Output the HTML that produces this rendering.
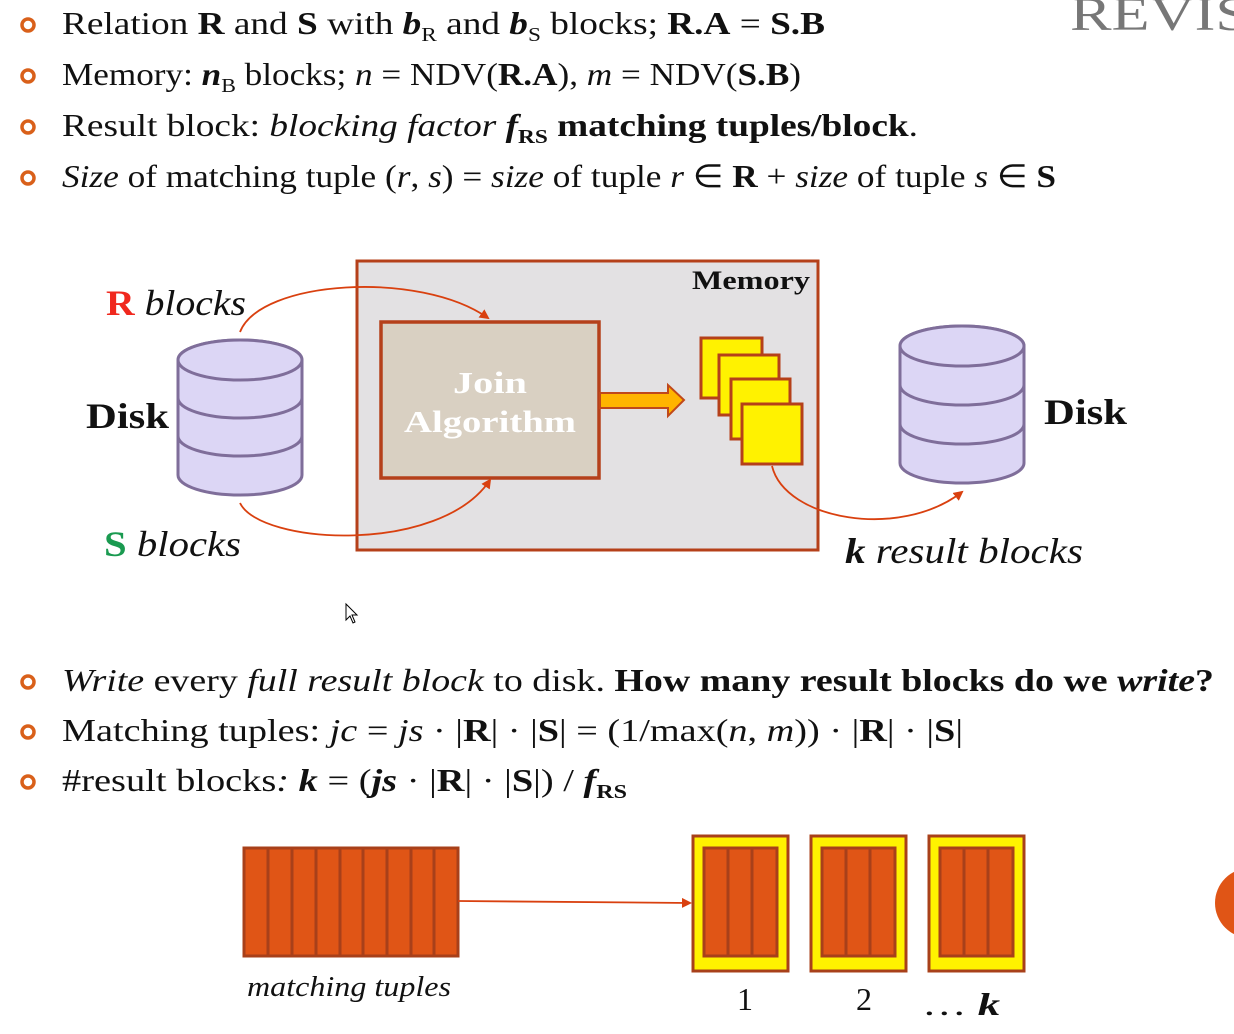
<!DOCTYPE html>
<html><head><meta charset="utf-8"><style>
html,body{margin:0;padding:0;background:#fff;width:1234px;height:1034px;overflow:hidden}
svg{display:block}
text{font-family:"Liberation Serif",serif;fill:#111}
.b{font-weight:bold}.i{font-style:italic}
</style></head><body>
<svg width="1234" height="1034" viewBox="0 0 1234 1034" xmlns="http://www.w3.org/2000/svg">
<defs>
<marker id="ah" markerWidth="10" markerHeight="10" refX="8" refY="5" orient="auto" markerUnits="userSpaceOnUse"><path d="M0,0 L10,5 L0,10 z" fill="#d9400f"/></marker>
</defs>
<g fill="none" stroke="#d9601a" stroke-width="3.5">
<circle cx="28" cy="25" r="6"/><circle cx="28" cy="76" r="6"/><circle cx="28" cy="127" r="6"/><circle cx="28" cy="178" r="6"/>
<circle cx="28" cy="682" r="6"/><circle cx="28" cy="732" r="6"/><circle cx="28" cy="782" r="6"/>
</g>
<g font-size="32">
<text x="62" y="34" textLength="763" lengthAdjust="spacingAndGlyphs">Relation <tspan class="b">R</tspan> and <tspan class="b">S</tspan> with <tspan class="b i">b</tspan><tspan font-size="20" dy="7">R</tspan><tspan dy="-7"> and </tspan><tspan class="b i">b</tspan><tspan font-size="20" dy="7">S</tspan><tspan dy="-7"> blocks;  </tspan><tspan class="b">R.A</tspan> = <tspan class="b">S.B</tspan></text>
<text x="62" y="85" textLength="739" lengthAdjust="spacingAndGlyphs">Memory: <tspan class="b i">n</tspan><tspan font-size="20" dy="7">B</tspan><tspan dy="-7"> blocks; </tspan><tspan class="i">n</tspan> = NDV(<tspan class="b">R.A</tspan>), <tspan class="i">m</tspan> = NDV(<tspan class="b">S.B</tspan>)</text>
<text x="62" y="136" textLength="856" lengthAdjust="spacingAndGlyphs">Result block: <tspan class="i">blocking factor </tspan><tspan class="b i">f</tspan><tspan font-size="20" dy="7" class="b">RS</tspan><tspan dy="-7" class="b"> matching tuples/block</tspan>.</text>
<text x="62" y="187" textLength="994" lengthAdjust="spacingAndGlyphs"><tspan class="i">Size</tspan> of matching tuple (<tspan class="i">r</tspan>, <tspan class="i">s</tspan>) = <tspan class="i">size</tspan> of tuple <tspan class="i">r</tspan> ∈ <tspan class="b">R</tspan> + <tspan class="i">size</tspan> of tuple <tspan class="i">s</tspan> ∈ <tspan class="b">S</tspan></text>
<text x="62" y="691" textLength="1152" lengthAdjust="spacingAndGlyphs"><tspan class="i">Write</tspan> every <tspan class="i">full result block</tspan> to disk. <tspan class="b">How many result blocks do we <tspan class="i">write</tspan>?</tspan></text>
<text x="62" y="741" textLength="901" lengthAdjust="spacingAndGlyphs">Matching tuples: <tspan class="i">jc</tspan> = <tspan class="i">js</tspan> ·  |<tspan class="b">R</tspan>| · |<tspan class="b">S</tspan>|  = (1/max(<tspan class="i">n</tspan>, <tspan class="i">m</tspan>)) ·  |<tspan class="b">R</tspan>| · |<tspan class="b">S</tspan>|</text>
<text x="62" y="791" textLength="565" lengthAdjust="spacingAndGlyphs">#result blocks<tspan class="i">: </tspan><tspan class="b i">k</tspan> = (<tspan class="b i">js</tspan> ·  |<tspan class="b">R</tspan>| · |<tspan class="b">S</tspan>|) / <tspan class="b i">f</tspan><tspan font-size="20" dy="7" class="b">RS</tspan></text>
</g>
<text x="1070" y="30" font-size="48" textLength="180" lengthAdjust="spacingAndGlyphs" style="fill:#777">REVIS</text>
<rect x="357" y="261" width="461" height="289" fill="#e3e1e3" stroke="#b5401a" stroke-width="3"/>
<text x="692" y="289" font-size="26" class="b" textLength="118" lengthAdjust="spacingAndGlyphs">Memory</text>
<rect x="381" y="322" width="218" height="156" fill="#d9d0c2" stroke="#b5401a" stroke-width="3.5"/>
<text x="490" y="393" font-size="31" text-anchor="middle" class="b" style="fill:#fff" textLength="74" lengthAdjust="spacingAndGlyphs">Join</text>
<text x="490" y="432" font-size="31" text-anchor="middle" class="b" style="fill:#fff" textLength="172" lengthAdjust="spacingAndGlyphs">Algorithm</text>
<path d="M600,393 H668 V385 L684,400 L668,416 V408 H600 z" fill="#ffb400" stroke="#c0481a" stroke-width="2"/>
<g fill="#fff200" stroke="#b5401a" stroke-width="3">
<rect x="701" y="338" width="61" height="60"/><rect x="719" y="355" width="60" height="60"/><rect x="731" y="379" width="59" height="60"/><rect x="742" y="404" width="60" height="60"/>
</g>
<g fill="none" stroke="#d9400f" stroke-width="1.8">
<path d="M240,332 C260,280 420,270 488,318" marker-end="url(#ah)"/>
<path d="M240,503 C260,545 440,555 490,480" marker-end="url(#ah)"/>
<path d="M772,466 C785,520 900,540 962,492" marker-end="url(#ah)"/>
</g>
<g stroke="#7f6e9a" stroke-width="3" fill="#dcd6f5">
<path d="M178,360 V475 A62,20 0 0 0 302,475 V360 A62,20 0 0 0 178,360 z"/>
<ellipse cx="240" cy="360" rx="62" ry="20"/>
<path d="M178,398 A62,20 0 0 0 302,398 M178,436 A62,20 0 0 0 302,436" fill="none"/>
<path d="M900,346 V463 A62,20 0 0 0 1024,463 V346 A62,20 0 0 0 900,346 z"/>
<ellipse cx="962" cy="346" rx="62" ry="20"/>
<path d="M900,385 A62,20 0 0 0 1024,385 M900,424 A62,20 0 0 0 1024,424" fill="none"/>
</g>
<text x="106" y="315" font-size="36" textLength="140" lengthAdjust="spacingAndGlyphs"><tspan class="b" style="fill:#f0281e">R</tspan><tspan class="i"> blocks</tspan></text>
<text x="104" y="556" font-size="36" textLength="137" lengthAdjust="spacingAndGlyphs"><tspan class="b" style="fill:#1a9a50">S</tspan><tspan class="i"> blocks</tspan></text>
<text x="86" y="428" font-size="36" class="b" textLength="83" lengthAdjust="spacingAndGlyphs">Disk</text>
<text x="1044" y="424" font-size="36" class="b" textLength="83" lengthAdjust="spacingAndGlyphs">Disk</text>
<text x="845" y="563" font-size="36" textLength="238" lengthAdjust="spacingAndGlyphs"><tspan class="b i">k</tspan><tspan class="i"> result blocks</tspan></text>
<rect x="244" y="848" width="214" height="108" fill="#e05516" stroke="#a8401a" stroke-width="3"/>
<g stroke="#a8401a" stroke-width="3">
<line x1="268" y1="848" x2="268" y2="956"/><line x1="292" y1="848" x2="292" y2="956"/><line x1="316" y1="848" x2="316" y2="956"/><line x1="340" y1="848" x2="340" y2="956"/><line x1="363" y1="848" x2="363" y2="956"/><line x1="387" y1="848" x2="387" y2="956"/><line x1="411" y1="848" x2="411" y2="956"/><line x1="434" y1="848" x2="434" y2="956"/>
</g>
<text x="247" y="996" font-size="28" class="i" textLength="204" lengthAdjust="spacingAndGlyphs">matching tuples</text>
<line x1="458" y1="901" x2="690" y2="903" stroke="#d9400f" stroke-width="1.8" marker-end="url(#ah)"/>
<g stroke="#a8401a" stroke-width="3">
<rect x="693" y="836" width="95" height="135" fill="#fff200"/>
<rect x="704" y="848" width="73" height="108" fill="#e05516"/>
<line x1="728" y1="848" x2="728" y2="956"/><line x1="752" y1="848" x2="752" y2="956"/>
<rect x="811" y="836" width="95" height="135" fill="#fff200"/>
<rect x="822" y="848" width="73" height="108" fill="#e05516"/>
<line x1="846" y1="848" x2="846" y2="956"/><line x1="870" y1="848" x2="870" y2="956"/>
<rect x="929" y="836" width="95" height="135" fill="#fff200"/>
<rect x="940" y="848" width="73" height="108" fill="#e05516"/>
<line x1="964" y1="848" x2="964" y2="956"/><line x1="988" y1="848" x2="988" y2="956"/>
</g>
<text x="737" y="1010" font-size="32">1</text>
<text x="856" y="1010" font-size="32">2</text>
<text x="922" y="1015" font-size="32" textLength="78" lengthAdjust="spacingAndGlyphs">… <tspan class="b i">k</tspan></text>
<circle cx="1250" cy="903" r="35" fill="#e05516"/>
<path d="M346,604 V620 L350,616 L353,623 L355,622 L352,615 L357,615 z" fill="#fff" stroke="#000" stroke-width="1"/>
</svg>
</body></html>
